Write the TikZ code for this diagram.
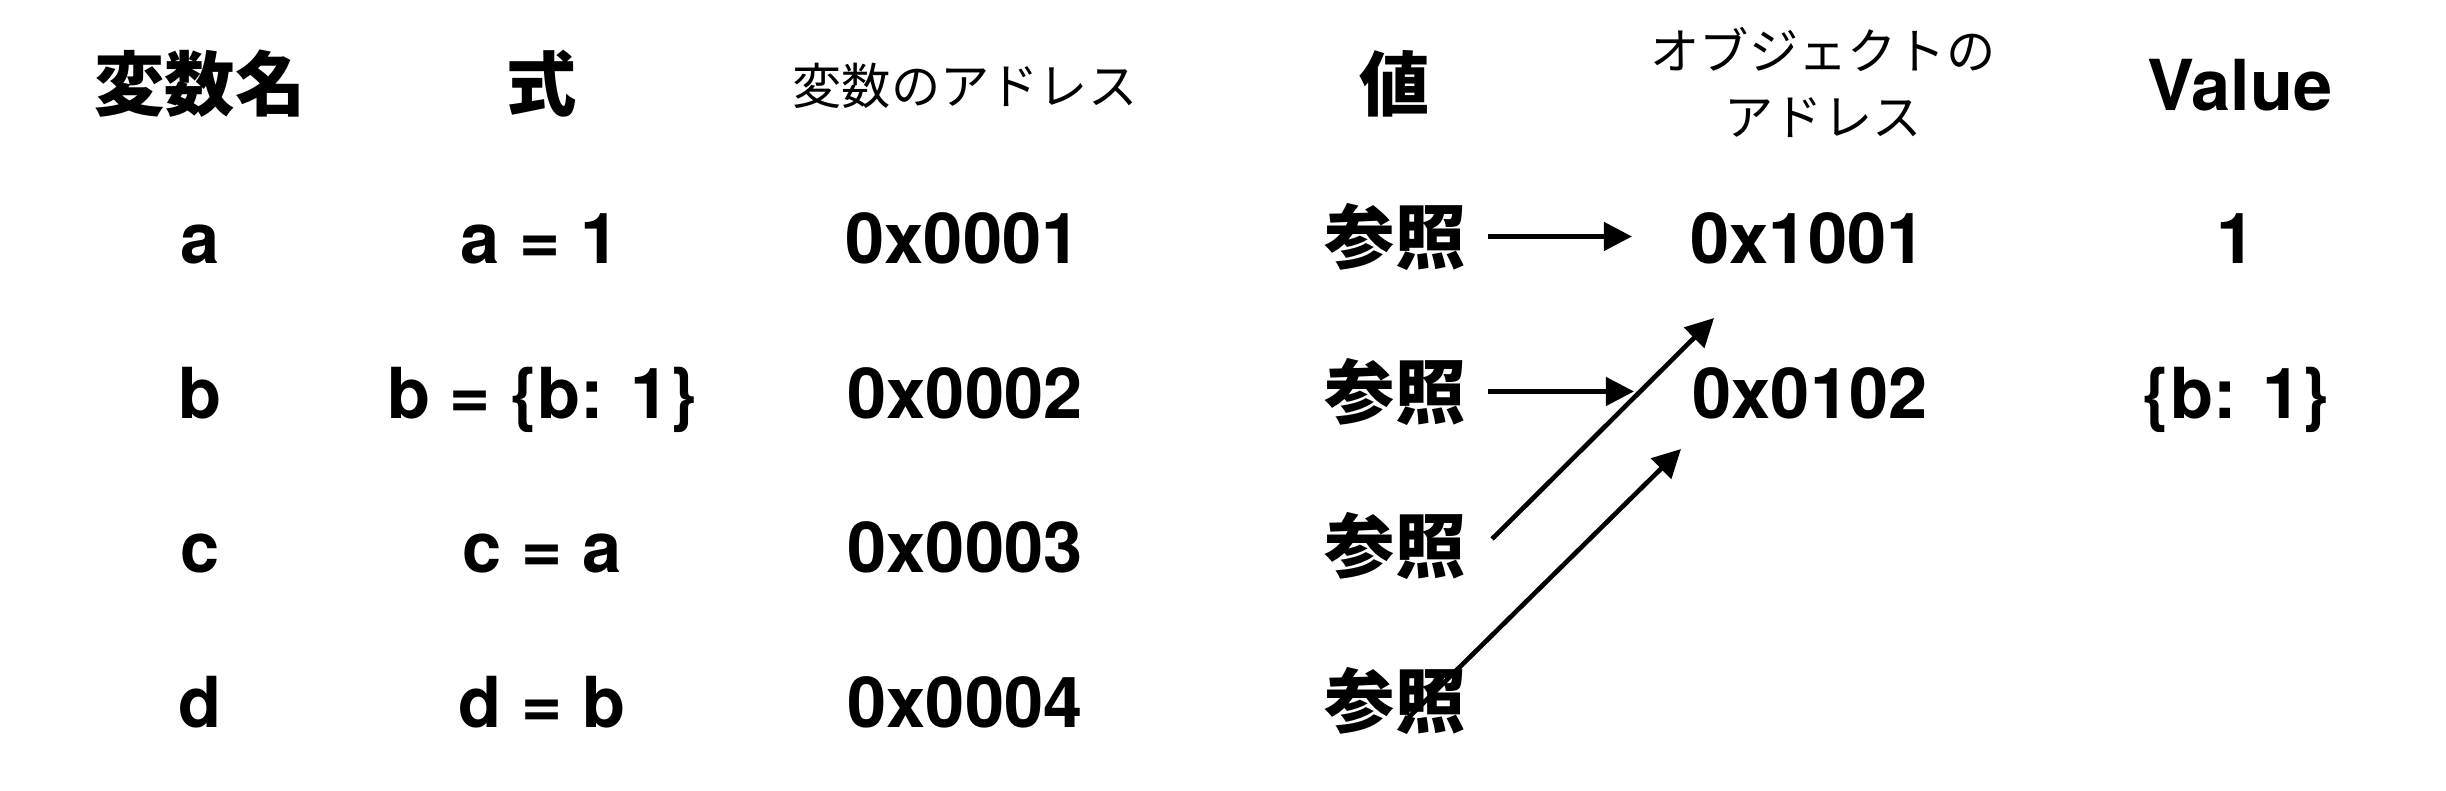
\documentclass[tikz,border=0pt]{standalone}
\usepackage{fontspec}
\setmainfont{TeX Gyre Heros}
\newfontfamily\cjk{Noto Sans CJK JP}
\usetikzlibrary{arrows.meta}
\tikzset{
  lat/.style={anchor=base,inner sep=0pt,font=\fontsize{20}{24}\selectfont\bfseries},
  jhb/.style={anchor=base,inner sep=0pt,font=\fontsize{20}{24}\selectfont\cjk\bfseries},
  jhs/.style={anchor=base,inner sep=0pt,font=\fontsize{14}{17}\selectfont\cjk},
  refarrow/.style={line width=1.33pt,-{Triangle[length=8pt,width=8pt]}}
}
\begin{document}
\begin{tikzpicture}[x=0.01cm,y=-0.01cm]
\useasboundingbox (0,0) rectangle (2446,790);
% headers
\node[jhb] (h1) at (200,110) {変数名};
\node[jhb] (h2) at (542,110) {式};
\node[jhs] (h3) at (965,104) {変数のアドレス};
\node[jhb] (h4) at (1395,110) {値};
\node[jhs] (h5a) at (1823,69) {オブジェクトの};
\node[jhs] (h5b) at (1823,135) {アドレス};
\node[lat] (h6) at (2240,110) {Value};
% row a
\node[lat] (na) at (200,263) {a};
\node[lat] (ea) at (540,263) {a = 1};
\node[lat] (va) at (963,263) {0x0001};
\node[jhb] (ra) at (1395,263) {参照};
\node[lat] (oa) at (1808,263) {0x1001};
\node[lat] (xa) at (2236,263) {1};
% row b
\node[lat] (nb) at (200,418) {b};
\node[lat] (eb) at (542,418) {b = \{b: 1\}};
\node[lat] (vb) at (965,418) {0x0002};
\node[jhb] (rb) at (1395,418) {参照};
\node[lat] (ob) at (1810,418) {0x0102};
\node[lat] (xb) at (2236,418) {\{b: 1\}};
% row c
\node[lat] (nc) at (200,572) {c};
\node[lat] (ec) at (542,572) {c = a};
\node[lat] (vc) at (965,572) {0x0003};
\node[jhb] (rc) at (1395,572) {参照};
% row d
\node[lat] (nd) at (200,727) {d};
\node[lat] (ed) at (542,727) {d = b};
\node[lat] (vd) at (965,727) {0x0004};
\node[jhb] (rd) at (1395,727) {参照};
% arrows
\draw[refarrow,shorten <=0.22cm,shorten >=0.58cm] (ra.east) -- (oa.west |- ra.east);
\draw[refarrow,shorten <=0.22cm,shorten >=0.58cm] (rb.east) -- (ob.west |- rb.east);
\coordinate (cs) at (1492,539);
\coordinate (ct) at (1714,318);
\coordinate (ds) at (1408,718);
\coordinate (dt) at (1681,449);
\draw[refarrow] (cs) -- (ct);
\draw[refarrow] (ds) -- (dt);
\end{tikzpicture}
\end{document}
